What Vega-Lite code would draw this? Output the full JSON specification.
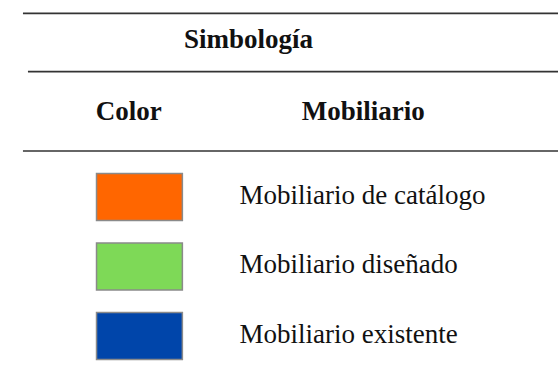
{
  "$schema": "https://vega.github.io/schema/vega-lite/v6.json",
  "width": 559,
  "height": 379,
  "autosize": {"type": "fit", "contains": "padding"},
  "padding": 0,
  "background": "white",
  "config": {
    "view": {"stroke": null},
    "text": {"font": "Liberation Serif", "fontSize": 27, "color": "#111111"}
  },
  "data": {
    "values": [
      {"row": 1, "label": "Mobiliario de catálogo"},
      {"row": 2, "label": "Mobiliario diseñado"},
      {"row": 3, "label": "Mobiliario existente"}
    ]
  },
  "layer": [
    {
      "mark": {"type": "rect", "height": 47, "stroke": "#8a8a8a", "strokeWidth": 1.5},
      "encoding": {
        "x": {"datum": 96.7, "type": "quantitative", "scale": {"domain": [0, 559], "nice": false, "zero": false}, "axis": null},
        "x2": {"datum": 182.7},
        "y": {"field": "row", "type": "quantitative", "scale": {"domain": [-1.8345, 3.6187], "nice": false, "zero": false, "reverse": true}, "axis": null},
        "color": {
          "field": "label",
          "type": "nominal",
          "scale": {
            "domain": ["Mobiliario de catálogo", "Mobiliario diseñado", "Mobiliario existente"],
            "range": ["#FF6600", "#7ED957", "#0045AA"]
          },
          "legend": null
        }
      }
    },
    {
      "mark": {"type": "text", "align": "left", "baseline": "alphabetic", "dy": 7},
      "encoding": {
        "x": {"datum": 240, "type": "quantitative"},
        "y": {"field": "row", "type": "quantitative"},
        "text": {"field": "label"}
      }
    },
    {
      "data": {"values": [{}]},
      "layer": [
        {
          "mark": {"type": "rule", "stroke": "#333333", "strokeWidth": 1.7},
          "encoding": {
            "x": {"datum": 23, "type": "quantitative"},
            "x2": {"datum": 559},
            "y": {"datum": -1.643, "type": "quantitative"}
          }
        },
        {
          "mark": {"type": "rule", "stroke": "#333333", "strokeWidth": 1.7},
          "encoding": {
            "x": {"datum": 28, "type": "quantitative"},
            "x2": {"datum": 559},
            "y": {"datum": -0.803, "type": "quantitative"}
          }
        },
        {
          "mark": {"type": "rule", "stroke": "#333333", "strokeWidth": 1.7},
          "encoding": {
            "x": {"datum": 23, "type": "quantitative"},
            "x2": {"datum": 559},
            "y": {"datum": 0.338, "type": "quantitative"}
          }
        },
        {
          "mark": {"type": "text", "align": "center", "baseline": "alphabetic", "fontWeight": "bold"},
          "encoding": {
            "x": {"datum": 249, "type": "quantitative"},
            "y": {"datum": -1.14, "type": "quantitative"},
            "text": {"value": "Simbología"}
          }
        },
        {
          "mark": {"type": "text", "align": "center", "baseline": "alphabetic", "fontWeight": "bold"},
          "encoding": {
            "x": {"datum": 129, "type": "quantitative"},
            "y": {"datum": -0.108, "type": "quantitative"},
            "text": {"value": "Color"}
          }
        },
        {
          "mark": {"type": "text", "align": "center", "baseline": "alphabetic", "fontWeight": "bold"},
          "encoding": {
            "x": {"datum": 364, "type": "quantitative"},
            "y": {"datum": -0.108, "type": "quantitative"},
            "text": {"value": "Mobiliario"}
          }
        }
      ]
    }
  ]
}
